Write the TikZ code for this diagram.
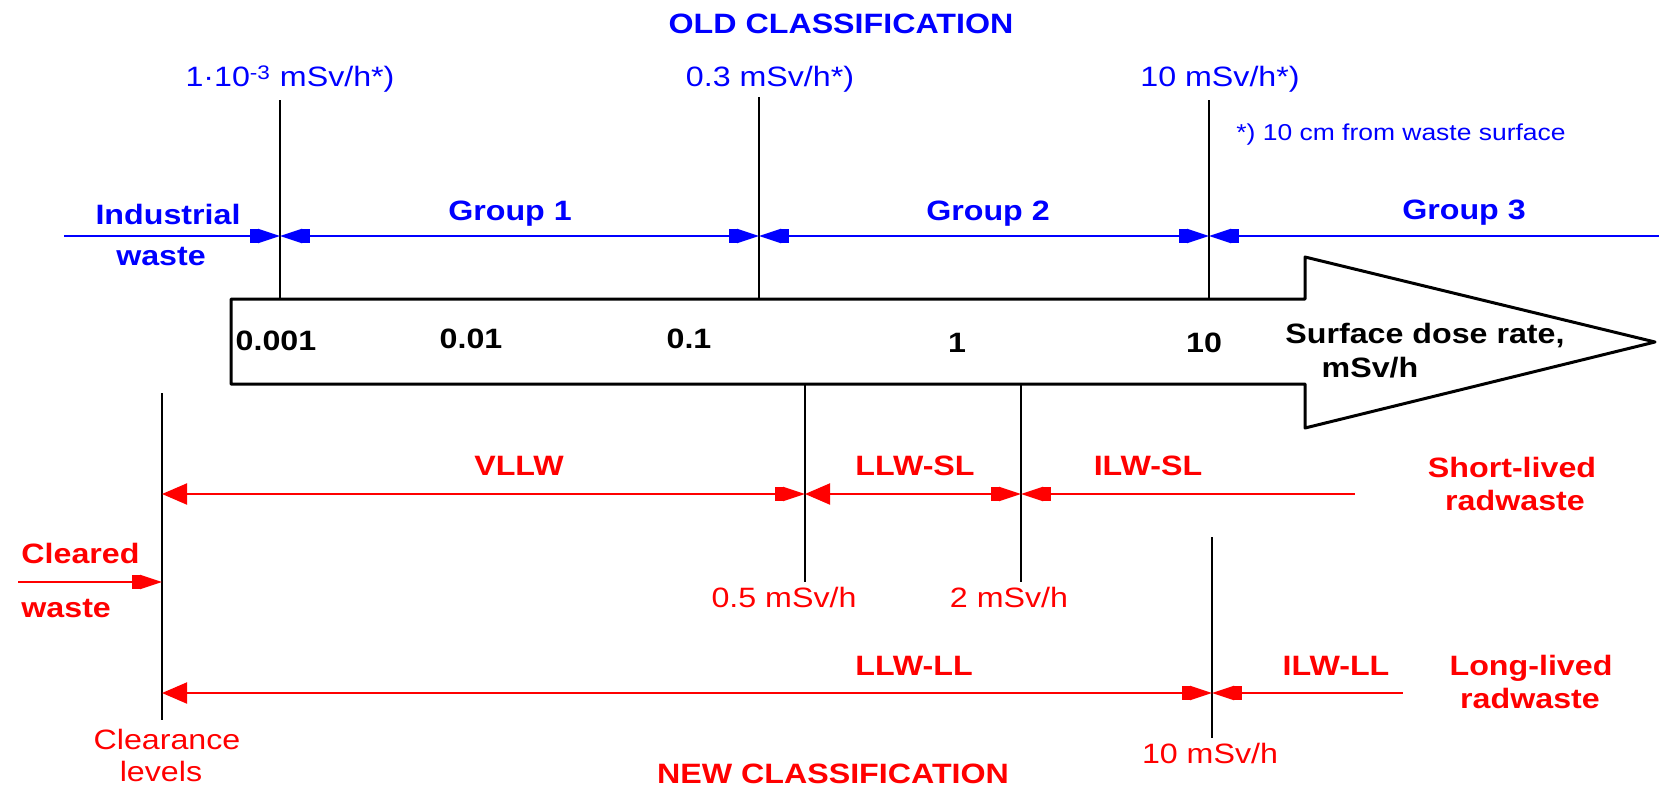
\documentclass[tikz,border=0pt]{standalone}
\usepackage{fontspec}
\setmainfont{Liberation Sans}[FakeStretch=1.15]
\usetikzlibrary{arrows.meta}
\definecolor{oblue}{RGB}{0,0,255}
\definecolor{nred}{RGB}{255,0,0}
\tikzset{
  txt/.style={inner sep=0pt, anchor=base, font=\fontsize{14}{16}\selectfont},
  btxt/.style={txt, font=\fontsize{14}{16}\selectfont\bfseries},
  ftxt/.style={txt, font=\fontsize{11.5}{13}\selectfont},
  divider/.style={draw=black, line width=0.8pt},
  conn/.style={line width=1pt},
  bothnarrow/.style={arrows={{Triangle[length=11pt,width=7pt,sep=0pt]Rectangle[length=4pt,width=7pt,sep=0pt]}-{Rectangle[length=4pt,width=7pt,sep=0pt]Triangle[length=11pt,width=7pt,sep=0pt]}}},
  endnarrow/.style={arrows={-{Rectangle[length=4pt,width=7pt,sep=0pt]Triangle[length=11pt,width=7pt,sep=0pt]}}},
  startnarrow/.style={arrows={{Triangle[length=11pt,width=7pt,sep=0pt]Rectangle[length=4pt,width=7pt,sep=0pt]}-}},
  widenarrow/.style={arrows={{Triangle[length=12.5pt,width=10.5pt]}-{Rectangle[length=4pt,width=7pt,sep=0pt]Triangle[length=11pt,width=7pt,sep=0pt]}}},
}
\begin{document}
\begin{tikzpicture}[x=0.5pt,y=-0.5pt]
\useasboundingbox (0,0) rectangle (1659,788);

% big dose-rate arrow
\draw[line width=1.5pt, line join=round, fill=white]
  (231,299) -- (1305,299) -- (1305,257) -- (1655,342) -- (1305,428) -- (1305,384) -- (231,384) -- cycle;

% ---------- old classification ----------
\node[btxt, text=oblue] (oldt) at (841,33) {OLD CLASSIFICATION};
\node[txt, text=oblue] (lA) at (290,86) {1·10\raisebox{-0.15em}{\textsuperscript{-3}} mSv/h*)};
\node[txt, text=oblue] (lB) at (770,86) {0.3 mSv/h*)};
\node[txt, text=oblue] (lC) at (1220,86) {10 mSv/h*)};
\node[ftxt, text=oblue] (fn) at (1401,140) {*) 10 cm from waste surface};

\coordinate (oAt) at (280,100);  \coordinate (oAb) at (280,299);
\coordinate (oBt) at (759,97);   \coordinate (oBb) at (759,299);
\coordinate (oCt) at (1209,100); \coordinate (oCb) at (1209,299);
\draw[divider] (oAt) -- (oAb);
\draw[divider] (oBt) -- (oBb);
\draw[divider] (oCt) -- (oCb);

\coordinate (b0) at (64,236);
\coordinate (bA) at (280,236);
\coordinate (bB) at (759,236);
\coordinate (bC) at (1209,236);
\coordinate (bE) at (1659,236);
\draw[conn, oblue, endnarrow] (b0) -- (bA);
\draw[conn, oblue, bothnarrow] (bA) -- (bB);
\draw[conn, oblue, bothnarrow] (bB) -- (bC);
\draw[conn, oblue, startnarrow] (bC) -- (bE);

\node[btxt, text=oblue] (ind1) at (168,224) {Industrial};
\node[btxt, text=oblue] (ind2) at (161,265) {waste};
\node[btxt, text=oblue] (g1) at (510,220) {Group 1};
\node[btxt, text=oblue] (g2) at (988,220) {Group 2};
\node[btxt, text=oblue] (g3) at (1464,219) {Group 3};

% ---------- scale in the arrow ----------
\node[btxt] (s1) at (276,350) {0.001};
\node[btxt] (s2) at (471,348) {0.01};
\node[btxt] (s3) at (689,348) {0.1};
\node[btxt] (s4) at (957,352) {1};
\node[btxt] (s5) at (1204,352) {10};
\node[btxt] (sd1) at (1425,343) {Surface dose rate,};
\node[btxt] (sd2) at (1370,377) {mSv/h};

% ---------- new classification ----------
\coordinate (nCt) at (162,393);   \coordinate (nCb) at (162,720);
\coordinate (n05t) at (805,384);  \coordinate (n05b) at (805,582);
\coordinate (n2t) at (1021,384);  \coordinate (n2b) at (1021,582);
\coordinate (n10t) at (1212,537); \coordinate (n10b) at (1212,738);
\draw[divider] (nCt) -- (nCb);
\draw[divider] (n05t) -- (n05b);
\draw[divider] (n2t) -- (n2b);
\draw[divider] (n10t) -- (n10b);

\coordinate (rC) at (162,494);
\coordinate (r05) at (805,494);
\coordinate (r2) at (1021,494);
\coordinate (rE) at (1355,494);
\draw[conn, nred, widenarrow] (rC) -- (r05);
\draw[conn, nred, widenarrow] (r05) -- (r2);
\draw[conn, nred, startnarrow] (r2) -- (rE);

\coordinate (cw0) at (18,582);
\coordinate (cw1) at (162,582);
\draw[conn, nred, endnarrow] (cw0) -- (cw1);

\coordinate (lC) at (162,693);
\coordinate (l10) at (1212,693);
\coordinate (lE) at (1403,693);
\draw[conn, nred, widenarrow] (lC) -- (l10);
\draw[conn, nred, startnarrow] (l10) -- (lE);

\node[btxt, text=nred] (vllw) at (519,475) {VLLW};
\node[btxt, text=nred] (llwsl) at (915,475) {LLW-SL};
\node[btxt, text=nred] (ilwsl) at (1148,475) {ILW-SL};
\node[btxt, text=nred] (sl1) at (1512,477) {Short-lived};
\node[btxt, text=nred] (sl2) at (1515,510) {radwaste};

\node[btxt, text=nred, anchor=base west] (cl1) at (21,563) {Cleared};
\node[btxt, text=nred, anchor=base west] (cl2) at (21,617) {waste};

\node[txt, text=nred] (v05) at (784,607) {0.5 mSv/h};
\node[txt, text=nred] (v2) at (1009,607) {2 mSv/h};

\node[btxt, text=nred] (llwll) at (914,675) {LLW-LL};
\node[btxt, text=nred] (ilwll) at (1336,675) {ILW-LL};
\node[btxt, text=nred] (ll1) at (1531,675) {Long-lived};
\node[btxt, text=nred] (ll2) at (1530,708) {radwaste};

\node[txt, text=nred] (v10) at (1210,763) {10 mSv/h};
\node[txt, text=nred] (clv1) at (167,749) {Clearance};
\node[txt, text=nred] (clv2) at (161,781) {levels};

\node[btxt, text=nred] (newt) at (833,783) {NEW CLASSIFICATION};
\end{tikzpicture}
\end{document}
